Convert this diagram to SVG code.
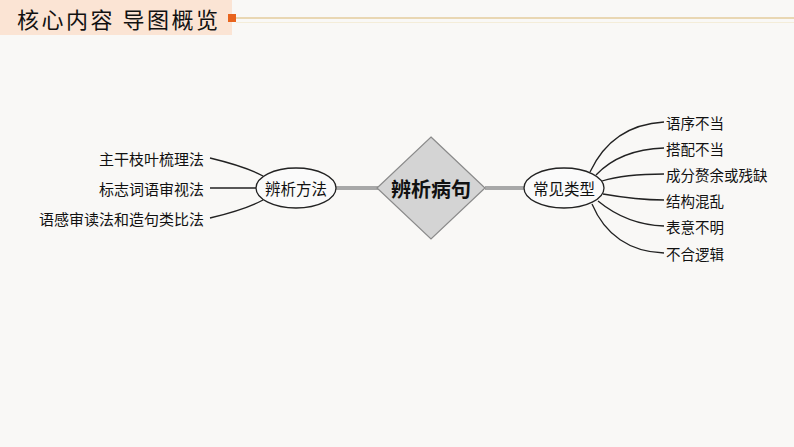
<svg xmlns="http://www.w3.org/2000/svg" width="794" height="447" viewBox="0 0 794 447">
<style>
.t{font-family:"Noto Sans CJK SC","Noto Sans CJK JP",sans-serif;font-size:14.5px;fill:#111;dominant-baseline:central}
.tl{font-size:15px}
.l{fill:none;stroke:#222;stroke-width:1.3}
.g{fill:none;stroke:#a8a8a8;stroke-width:4}
.e{fill:#fafafa;stroke:#222;stroke-width:1.3}
</style>
<rect width="794" height="447" fill="#f9f8f6"/>
<g id="header">
<rect x="0" y="0" width="232" height="35" fill="#fbe4d4"/>
<text x="17" y="18" style="font-family:'Noto Sans CJK SC',sans-serif;font-size:22px;fill:#111;dominant-baseline:central;letter-spacing:2.5px">核心内容 导图概览</text>
<rect x="228" y="14" width="8" height="8" fill="#e8641e"/>
<line x1="236" y1="18" x2="794" y2="18" stroke="#e3cc9c" stroke-width="1.6"/>
<line x1="236" y1="22.5" x2="794" y2="22.5" stroke="#f3ead2" stroke-width="0.8"/>
</g>
<g id="connectors">
<line class="g" x1="336" y1="188" x2="378" y2="188"/>
<line class="g" x1="485" y1="188" x2="525" y2="188"/>
<path class="l" d="M210,158 C235,164 252,170 263,176"/>
<path class="l" d="M210,188 L256,188"/>
<path class="l" d="M210,218 C235,212 252,206 263,200"/>
<path class="l" d="M590,172 C605,140 630,124 664,122"/>
<path class="l" d="M596,175 C612,158 635,149 664,148"/>
<path class="l" d="M602,181 C618,176 640,174 664,174"/>
<path class="l" d="M603,194 C620,197 640,200 664,200"/>
<path class="l" d="M598,201 C615,215 635,225 664,226"/>
<path class="l" d="M592,204 C605,235 630,252 664,253"/>
</g>
<g id="center">
<polygon points="431,137 485,188 431,239 377,188" fill="#d4d4d4" stroke="#8a8a8a" stroke-width="1.2"/>
<text x="431" y="188" text-anchor="middle" style="font-family:'Noto Sans CJK SC',sans-serif;font-size:20px;font-weight:bold;fill:#111;dominant-baseline:central">辨析病句</text>
</g>
<g id="method">
<ellipse class="e" cx="296" cy="188" rx="40" ry="20"/>
<text class="t" x="296" y="188" text-anchor="middle" style="font-size:15.5px">辨析方法</text>
</g>
<g id="types">
<ellipse class="e" cx="564" cy="188" rx="40" ry="20"/>
<text class="t" x="564" y="188" text-anchor="middle" style="font-size:15.5px">常见类型</text>
</g>
<g id="m1"><text class="t tl" x="204" y="158" text-anchor="end">主干枝叶梳理法</text></g>
<g id="m2"><text class="t tl" x="204" y="188" text-anchor="end">标志词语审视法</text></g>
<g id="m3"><text class="t tl" x="204" y="218" text-anchor="end">语感审读法和造句类比法</text></g>
<g id="k1"><text class="t" x="666" y="122">语序不当</text></g>
<g id="k2"><text class="t" x="666" y="148">搭配不当</text></g>
<g id="k3"><text class="t" x="666" y="174">成分赘余或残缺</text></g>
<g id="k4"><text class="t" x="666" y="200">结构混乱</text></g>
<g id="k5"><text class="t" x="666" y="226">表意不明</text></g>
<g id="k6"><text class="t" x="666" y="253">不合逻辑</text></g>
</svg>
